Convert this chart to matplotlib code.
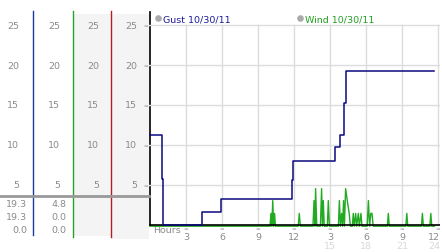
import matplotlib
matplotlib.use('Agg')
import matplotlib.pyplot as plt
from matplotlib.patches import Rectangle, Circle

# gust readings (hours since midnight, mph) -- step line
gust_hours = [0, 1.0, 1.1, 4.3, 5.9, 11.8, 11.95, 15.4, 15.8, 16.2, 16.3, 23.7]
gust_vals = [11.2, 5.8, 0.0, 1.6, 3.2, 5.6, 8.0, 9.7, 11.2, 15.2, 19.3, 19.3]

# wind readings (hours, mph)
wind_hours = [0, 10.0, 10.08, 10.15, 10.23, 10.3, 10.38, 10.45, 12.35, 12.44, 12.53,
              13.58, 13.67, 13.74, 13.8, 13.9, 14.2, 14.3, 14.37, 14.44, 14.52,
              14.78, 14.86, 14.95, 15.7, 15.78, 15.87, 15.97, 16.05, 16.13, 16.2,
              16.3, 16.44, 16.6, 16.7, 16.86, 16.94, 17.02, 17.14, 17.22, 17.36,
              17.44, 17.58, 17.66, 18.1, 18.2, 18.3, 18.4, 18.5, 18.6, 19.78,
              19.86, 19.94, 21.32, 21.4, 21.48, 22.62, 22.7, 22.78, 23.32, 23.4,
              23.48, 23.7]
wind_vals = [0, 0, 1.6, 0, 3.2, 0, 1.6, 0, 0, 1.6, 0,
             0, 3.2, 0, 4.7, 0, 0, 4.7, 0, 3.2, 0,
             0, 3.2, 0, 0, 3.2, 0, 1.6, 0, 3.2, 0,
             4.7, 3.2, 1.6, 0, 0, 1.6, 0, 1.6, 0, 1.6,
             0, 1.6, 0, 0, 3.2, 0, 1.6, 1.6, 0, 0,
             1.6, 0, 0, 1.6, 0, 0, 1.6, 0, 0, 1.6,
             0, 0]

y_ticks = [5, 10, 15, 20, 25]
x_ticks = [3, 6, 9, 12, 15, 18, 21, 24]
x_labels = ['3', '6', '9', '12', '3', '6', '9', '12']
x_labels2 = ['15', '18', '21', '24']
gust_summary = ['19.3', '19.3', '0.0']
wind_summary = ['4.8', '0.0', '0.0']

W, H = 442, 253
fig = plt.figure(figsize=(W / 100, H / 100), dpi=100)
fig.patch.set_facecolor('white')

# overlay in pixel coords for the left side panel
pa = fig.add_axes([0, 0, 1, 1])
pa.set_xlim(0, W)
pa.set_ylim(H, 0)
pa.axis('off')

gray_txt = '#8a8a8a'
fs = 6.8

pa.add_patch(Rectangle((73, 15), 38, 222, color='#f4f4f4', lw=0))
pa.add_patch(Rectangle((111, 15), 38, 225, color='#f4f4f4', lw=0))
pa.plot([33, 33], [12, 236], color='#1c3c9c', lw=1)
pa.plot([72.5, 72.5], [12, 238], color='#2aa02a', lw=1)
pa.plot([111, 111], [12, 238], color='#b02020', lw=1)
pa.plot([149.5, 149.5], [13, 226], color='black', lw=1.2)
pa.plot([0, 149], [197, 197], color='#999999', lw=2)

# px position of each value on the left side: 0 -> 226, 8 px per unit
for v in y_ticks:
    ypx = 226 - 8 * v
    for xr in [19, 60, 99, 137]:
        pa.text(xr, ypx, str(v), ha='right', va='center', fontsize=fs, color=gray_txt)
    pa.text(146, ypx, '≈', ha='center', va='center', fontsize=4, color='#999999')

for i, (g, w) in enumerate(zip(gust_summary, wind_summary)):
    ypx = 205 + 13 * i
    pa.text(27, ypx, g, ha='right', va='center', fontsize=fs, color=gray_txt)
    pa.text(66, ypx, w, ha='right', va='center', fontsize=fs, color=gray_txt)

# legend
pa.add_patch(Circle((158.5, 19.5), 2.6, color='#aaaaaa'))
pa.text(163, 19.5, 'Gust 10/30/11', ha='left', va='center', fontsize=fs, color='#1a1a9a')
pa.add_patch(Circle((300.5, 19.5), 2.6, color='#aaaaaa'))
pa.text(305, 19.5, 'Wind 10/30/11', ha='left', va='center', fontsize=fs, color='#22a022')

pa.text(153, 231, 'Hours', ha='left', va='center', fontsize=fs, color=gray_txt)

# main chart: hour 0 at x=150, 12 px/hour; value 0 at y=226, 8 px/unit
x0, x1 = 149, 440
ytop, ybot = 13, 228
ax = fig.add_axes([x0 / W, (H - ybot) / H, (x1 - x0) / W, (ybot - ytop) / H])
ax.set_facecolor('none')
ax.set_xlim((x0 - 150) / 12, (x1 - 150) / 12)
ax.set_ylim(-(ybot - 226) / 8, (226 - ytop) / 8)
for s in ax.spines.values():
    s.set_visible(False)
ax.set_xticks([])
ax.set_yticks([])

for v in y_ticks:
    ax.axhline(v, color='#dcdcdc', lw=1, zorder=1)
for h in x_ticks:
    ax.plot([h, h], [0, 25], color='#dcdcdc', lw=1, zorder=1)

ax.plot(wind_hours, [v - 0.15 for v in wind_vals], color='#22aa22', lw=1, zorder=2)
ax.axhline(0, color='black', lw=1.2, zorder=3)
ax.plot(gust_hours, gust_vals, drawstyle='steps-post', color='#0a0a80', lw=1.1, zorder=4)

for h, lab in zip(x_ticks, x_labels):
    xpx = 150 + 12 * h
    pa.text(xpx, 229, '≈', ha='center', va='center', fontsize=4, color='#999999')
    if h == 24:
        pa.text(440, 237.5, lab, ha='right', va='center', fontsize=fs, color=gray_txt)
    else:
        pa.text(xpx, 237.5, lab, ha='center', va='center', fontsize=fs, color=gray_txt)
for h, lab in zip(x_ticks[4:], x_labels2):
    xpx = 150 + 12 * h
    if h == 24:
        pa.text(440, 247, lab, ha='right', va='center', fontsize=fs, color='#d8d8d8')
    else:
        pa.text(xpx, 247, lab, ha='center', va='center', fontsize=fs, color='#d8d8d8')

fig.savefig('out.png', dpi=100, facecolor='white')
